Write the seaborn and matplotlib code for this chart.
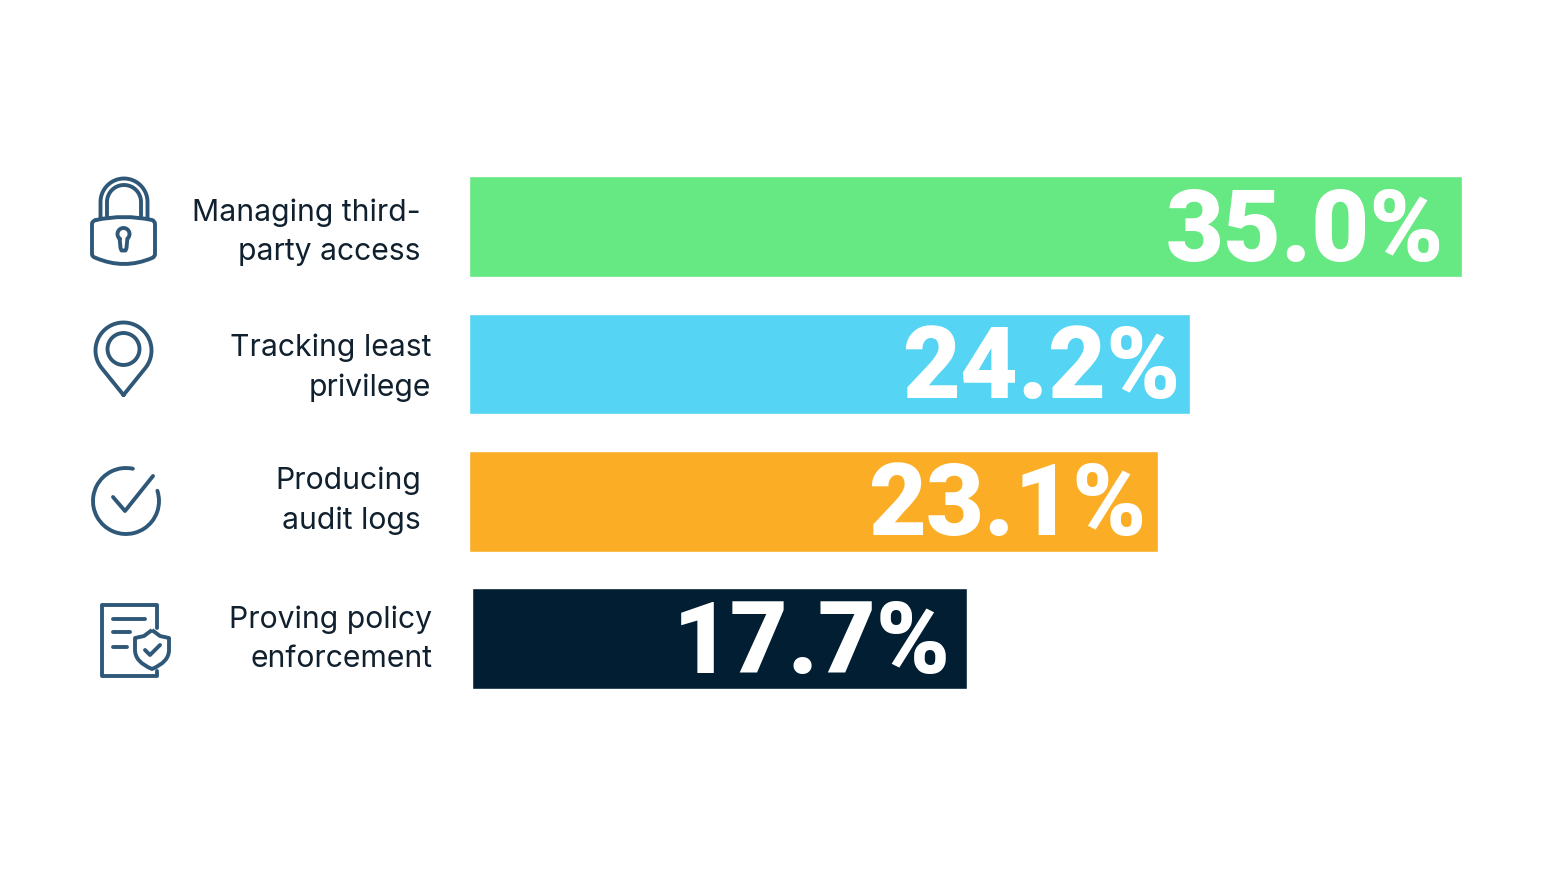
import matplotlib
matplotlib.use("Agg")
import matplotlib.pyplot as plt
import numpy as np
import pandas as pd
import seaborn as sns
from matplotlib.patches import Arc, Circle, PathPatch
from matplotlib.path import Path

# data
categories = ["Managing third-\nparty access", "Tracking least\nprivilege",
              "Producing\naudit logs", "Proving policy\nenforcement"]
value_labels = ["35.0%", "24.2%", "23.1%", "17.7%"]
# the drawn bars are not to scale with their labels, so lengths are read separately
bar_lengths = [35.0, 25.4, 24.3, 17.45]
bar_colors = ["#66E882", "#55D4F4", "#FBAE25", "#021E33"]

W, H = 1560, 876
ICON = "#2F5878"
LW = 2.8

sns.set_theme(style="white")
plt.rcParams["font.family"] = ["Inter", "DejaVu Sans"]

df = pd.DataFrame({"category": categories, "length": bar_lengths})

fig = plt.figure(figsize=(W / 100, H / 100), dpi=100, facecolor="white")
ax = fig.add_axes([469.2 / W, 1 - 707.4 / H, 992.8 / W, (707.4 - 157.8) / H])

sns.barplot(data=df, x="length", y="category", hue="category",
            palette=dict(zip(categories, bar_colors)), dodge=False,
            legend=False, width=0.732, saturation=1, ax=ax)
ax.set_xlim(0, 35)
ax.set_xlabel("")
ax.set_ylabel("")
ax.set_xticks([])
ax.set_yticks([])
sns.despine(ax=ax, left=True, bottom=True)

# last bar starts a little to the right in the original
ax.containers[3][0].set_x(0.09)

pads = [-13, -6.5, -8.6, -11.5]
for cont, lab, pad in zip(ax.containers, value_labels, pads):
    txts = ax.bar_label(cont, labels=[lab], padding=pad, color="white", fontsize=72,
                        family="Roboto", fontweight=900)
    for t in txts:
        t.set_ha("right")
        t.set_va("center_baseline")
        t.xyann = (pad, 2.5)

# overlay in pixel coordinates for row text and icons
ov = fig.add_axes([0, 0, 1, 1], zorder=3)
ov.set_xlim(0, W)
ov.set_ylim(H, 0)
ov.axis("off")

text_right = [421, 431, 421, 432]
text_mid = [232.5, 367.5, 501, 639]
for cat, x, y in zip(categories, text_right, text_mid):
    ov.text(x, y, cat, ha="right", va="center", fontsize=21.7, color="#10202E",
            linespacing=1.5)

st = dict(fill=False, edgecolor=ICON, linewidth=LW, capstyle="round", joinstyle="round")


def line(pts):
    xs, ys = zip(*pts)
    ov.plot(xs, ys, color=ICON, lw=LW, solid_capstyle="round", solid_joinstyle="round")


# lock
for r in (23.5, 17):
    t = np.linspace(np.pi, 2 * np.pi, 40)
    xs = 124 + r * np.cos(t)
    ys = 202 + r * np.sin(t)
    ov.plot(np.r_[xs[0], xs, xs[-1]], np.r_[218, ys, 218], color=ICON, lw=LW)
body = Path([(96, 220), (124, 214), (152, 220), (155, 221), (155, 224), (155, 254), (155, 257), (152, 258),
             (124, 270), (96, 258), (92, 257), (92, 254), (92, 224), (92, 221), (96, 220)],
            [Path.MOVETO, Path.CURVE3, Path.CURVE3, Path.CURVE3, Path.CURVE3, Path.LINETO, Path.CURVE3, Path.CURVE3,
             Path.CURVE3, Path.CURVE3, Path.CURVE3, Path.CURVE3, Path.LINETO, Path.CURVE3, Path.CURVE3])
ov.add_patch(PathPatch(body, **st))
t = np.radians(np.linspace(130, 410, 40))
kx = 123.5 + 6 * np.cos(t)
ky = 234 + 6 * np.sin(t)
ov.plot(np.r_[kx, 126.5, 125.5, 121.5, 120.5, kx[0]],
        np.r_[ky, 248, 250.5, 250.5, 248, ky[0]], color=ICON, lw=LW, solid_joinstyle="round")

# pin: arc over the top, straight sides down to the tip
t = np.radians(np.linspace(90 + 50.7, 90 + 360 - 50.7, 60))
px = 123.5 + 28 * np.cos(t)
py = 350.5 + 28 * np.sin(t)
ov.plot(np.r_[123.5, px, 123.5], np.r_[395, py, 395], color=ICON, lw=LW, solid_joinstyle="round")
ov.add_patch(Circle((123.5, 349), 16, **st))

# check
ov.add_patch(Arc((126, 501), 66, 66, theta1=-18, theta2=-78 + 360, color=ICON, lw=LW, capstyle="round"))
line([(113, 497), (125, 511), (153, 476)])

# document + shield
line([(157, 628), (157, 605), (102, 605), (102, 676), (157, 676), (157, 671)])
line([(113, 619), (145, 619)])
line([(113, 632), (130, 632)])
line([(113, 647), (127, 647)])
shield = Path([(152, 630), (144, 636), (135, 638), (135, 650), (135, 662), (152, 669), (169, 662), (169, 650), (169, 638),
               (160, 636), (152, 630)],
              [Path.MOVETO, Path.LINETO, Path.LINETO, Path.LINETO, Path.CURVE3, Path.CURVE3, Path.CURVE3, Path.CURVE3,
               Path.LINETO, Path.LINETO, Path.LINETO])
ov.add_patch(PathPatch(shield, facecolor="white", edgecolor=ICON, linewidth=LW, joinstyle="round"))
line([(145, 650), (150, 655), (160, 645)])

fig.savefig("out.png", dpi=100, facecolor="white")
